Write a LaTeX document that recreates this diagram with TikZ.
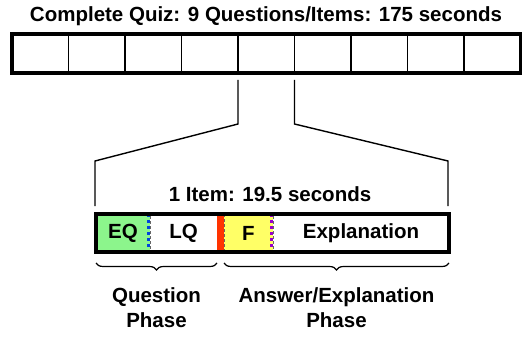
\documentclass[tikz,border=0pt]{standalone}
\usepackage{fontspec}
\setmainfont{Liberation Sans}
\usetikzlibrary{decorations.pathreplacing}
\definecolor{eqgreen}{HTML}{8CF58C}
\definecolor{fyellow}{HTML}{FFFF66}
\definecolor{redbar}{HTML}{FF3300}
\definecolor{dotblue}{HTML}{0044DD}
\definecolor{dotpurple}{HTML}{9900CC}
\begin{document}
\begin{tikzpicture}[x=1pt, y=1pt, font=\fontsize{20.5}{25}\selectfont\bfseries,
    cell/.style={draw, line width=1.4pt, minimum width=56.5pt, minimum height=39pt, inner sep=0pt, outer sep=0pt},
    part/.style={minimum height=38pt, inner sep=0pt, outer sep=0pt, anchor=west},
    dotline/.style={line width=3pt, dash pattern=on 3pt off 3pt},
    phase/.style={align=center, anchor=north}]
    \useasboundingbox (0, 0) rectangle (531, -337);
    \node (title) at (266, -16) {Complete Quiz: 9 Questions/Items: 175 seconds};
    \foreach \i in {1,...,9}
        \node[cell] (c\i) at ({12+56.5*(\i-0.5)}, -53.5) {};
    \draw[line width=3.5pt] (c1.north west) rectangle (c9.south east);
    \node[part, fill=eqgreen, minimum width=54pt] (eq) at (96, -233) {EQ};
    \node[part, minimum width=67pt] (lq) at (eq.east) {LQ};
    \node[part, fill=redbar, minimum width=7pt] (red) at (lq.east) {};
    \node[part, fill=fyellow, minimum width=49pt] (f) at (red.east) {F};
    \node[part, minimum width=176pt] (expl) at (f.east) {Explanation};
    \draw[densely dashed, thin, black!60] (eq.north west) rectangle (eq.south east);
    \draw[densely dashed, thin, black!60] (f.north west) rectangle (f.south east);
    \draw[dotline, draw=dotblue] ([xshift=-1.5pt]eq.north east) -- ([xshift=-1.5pt]eq.south east);
    \draw[dotline, draw=dotpurple] ([xshift=-1.5pt]f.north east) -- ([xshift=-1.5pt]f.south east);
    \draw[line width=3.5pt] (eq.north west) rectangle (expl.south east);
    \node (item) at (270, -194) {1 Item: 19.5 seconds};
    \coordinate (kl) at (95, -161);
    \coordinate (kr) at (448, -161);
    \draw[line width=1.4pt] ([yshift=-7pt]c5.south west) -- ++(0, -44) -- (kl) -- ++(0, -45);
    \draw[line width=1.4pt] ([yshift=-7pt]c5.south east) -- ++(0, -44) -- (kr) -- ++(0, -45);
    \draw[decorate, decoration={brace, mirror, amplitude=7pt}, line width=1.2pt] ([yshift=-11pt]eq.south west) -- ([yshift=-11pt]lq.south east) coordinate[midway] (qb);
    \draw[decorate, decoration={brace, mirror, amplitude=7pt}, line width=1.2pt] ([yshift=-11pt]f.south west) -- ([yshift=-11pt]expl.south east) coordinate[midway] (ab);
    \node[phase] (qphase) at ([yshift=-21pt]qb) {Question\\Phase};
    \node[phase] (aphase) at ([yshift=-21pt]ab) {Answer/Explanation\\Phase};
\end{tikzpicture}
\end{document}
